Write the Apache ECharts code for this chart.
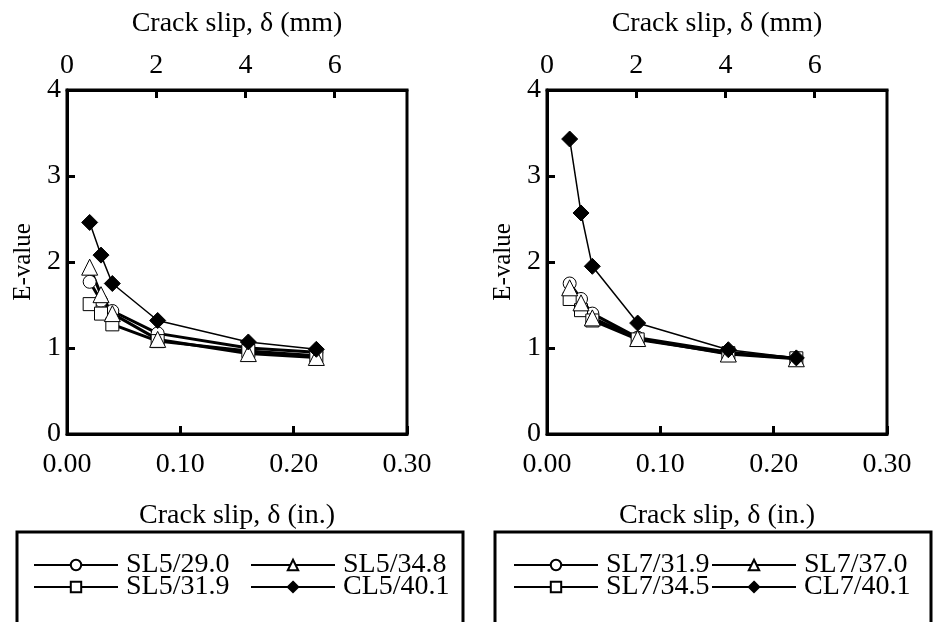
<!DOCTYPE html>
<html>
<head>
<meta charset="utf-8">
<script src="https://cdn.jsdelivr.net/npm/echarts@6/dist/echarts.min.js"></script>
<style>
  html, body { margin: 0; padding: 0; background: #fff; }
  #chart { width: 934px; height: 622px; }
</style>
</head>
<body>
<div id="chart"></div>
<script>
// Crack slip (in.) at each measurement
const slipIn = [0.02, 0.03, 0.04, 0.08, 0.16, 0.22];

// E-values, 5 mm specimens
const sl5_290 = [1.77, 1.55, 1.43, 1.17, 1.00, 0.95];
const sl5_348 = [1.94, 1.62, 1.40, 1.10, 0.935, 0.89];
const sl5_319 = [1.51, 1.40, 1.275, 1.08, 0.965, 0.91];
const cl5_401 = [2.46, 2.08, 1.75, 1.32, 1.07, 0.985];

// E-values, 7 mm specimens
const sl7_319 = [1.75, 1.57, 1.40, 1.12, 0.95, 0.88];
const sl7_370 = [1.70, 1.525, 1.35, 1.11, 0.93, 0.875];
const sl7_345 = [1.57, 1.44, 1.32, 1.10, 0.94, 0.88];
const cl7_401 = [3.43, 2.57, 1.95, 1.29, 0.98, 0.885];

const yTicks = [0, 1, 2, 3, 4];
const inTicks = [0, 0.1, 0.2, 0.3];
const mmTicks = [0, 2, 4, 6];
const MM_PER_IN = 25.4;

const FONT = 'Liberation Serif';
const FS = 28;

const pairs = (ys) => ys.map((y, i) => [slipIn[i], y]);

const grids = [
  { left: 67, top: 90, width: 340, height: 344 },
  { left: 547, top: 90, width: 340, height: 344 }
];

const axisTextStyle = { color: '#000', fontFamily: FONT, fontSize: FS };
const tickStyle = { show: true, inside: true, length: 8, lineStyle: { color: '#000', width: 3 } };

function bottomAxis(gi) {
  return {
    type: 'value', gridIndex: gi, position: 'bottom',
    min: inTicks[0], max: inTicks[inTicks.length - 1], interval: 0.1,
    axisLine: { show: true, onZero: false, lineStyle: { color: '#000', width: 3 } },
    axisTick: tickStyle,
    splitLine: { show: false },
    axisLabel: Object.assign({ margin: 17, formatter: v => v.toFixed(2) }, axisTextStyle),
    name: 'Crack slip, δ (in.)', nameLocation: 'middle', nameGap: 68,
    nameTextStyle: axisTextStyle
  };
}

function topAxis(gi) {
  return {
    type: 'value', gridIndex: gi, position: 'top',
    min: 0, max: inTicks[inTicks.length - 1] * MM_PER_IN, interval: 2,
    axisLine: { show: true, onZero: false, lineStyle: { color: '#000', width: 3 } },
    axisTick: tickStyle,
    splitLine: { show: false },
    axisLabel: Object.assign({
      margin: 10, showMaxLabel: false,
      formatter: v => (mmTicks.indexOf(Math.round(v * 1000) / 1000) >= 0 ? String(v) : '')
    }, axisTextStyle),
    name: 'Crack slip, δ (mm)', nameLocation: 'middle', nameGap: 52,
    nameTextStyle: axisTextStyle
  };
}

function leftAxis(gi) {
  return {
    type: 'value', gridIndex: gi,
    min: yTicks[0], max: yTicks[yTicks.length - 1], interval: 1,
    axisLine: { show: true, onZero: false, lineStyle: { color: '#000', width: 3 } },
    axisTick: tickStyle,
    splitLine: { show: false },
    axisLabel: Object.assign({ margin: 6 }, axisTextStyle),
    name: 'E-value', nameLocation: 'middle', nameGap: 31, nameRotate: 90,
    nameTextStyle: Object.assign({}, axisTextStyle, { fontSize: 25 })
  };
}

function slSeries(name, ys, symbol, gi, size) {
  return {
    type: 'line', name: name, data: pairs(ys),
    xAxisIndex: gi * 2, yAxisIndex: gi,
    symbol: symbol, symbolSize: size,
    lineStyle: { color: '#000', width: 3 },
    itemStyle: { color: '#fff', borderColor: '#000', borderWidth: 1 },
    emphasis: { disabled: true }, animation: false
  };
}

function clSeries(name, ys, gi) {
  return {
    type: 'line', name: name, data: pairs(ys),
    xAxisIndex: gi * 2, yAxisIndex: gi,
    symbol: 'diamond', symbolSize: 16,
    lineStyle: { color: '#000', width: 1.5 },
    itemStyle: { color: '#000', borderColor: '#000', borderWidth: 1 },
    emphasis: { disabled: true }, animation: false, z: 3
  };
}

function legendItem(name, left, rowCenter) {
  return {
    data: [name], left: left, top: rowCenter - 14, padding: 0,
    itemWidth: 84, itemHeight: 13, selectedMode: false,
    textStyle: { color: '#000', fontFamily: FONT, fontSize: FS, padding: [0, 0, 0, 3] }
  };
}

const ROW1 = 565, ROW2 = 587;

const option = {
  backgroundColor: '#fff',
  animation: false,
  grid: grids.map(g => Object.assign({ show: true, borderColor: '#000', borderWidth: 3, backgroundColor: 'transparent' }, g)),
  xAxis: [bottomAxis(0), topAxis(0), bottomAxis(1), topAxis(1)],
  yAxis: [leftAxis(0), leftAxis(1)],
  series: [
    slSeries('SL5/29.0', sl5_290, 'circle', 0, 13),
    slSeries('SL5/31.9', sl5_319, 'rect', 0, 13),
    slSeries('SL5/34.8', sl5_348, 'triangle', 0, 16),
    clSeries('CL5/40.1', cl5_401, 0),
    slSeries('SL7/31.9', sl7_319, 'circle', 1, 13),
    slSeries('SL7/34.5', sl7_345, 'rect', 1, 13),
    slSeries('SL7/37.0', sl7_370, 'triangle', 1, 16),
    clSeries('CL7/40.1', cl7_401, 1)
  ],
  legend: [
    legendItem('SL5/29.0', 33, ROW1),
    legendItem('SL5/34.8', 250, ROW1),
    legendItem('SL5/31.9', 33, ROW2),
    legendItem('CL5/40.1', 250, ROW2),
    legendItem('SL7/31.9', 513, ROW1),
    legendItem('SL7/37.0', 711, ROW1),
    legendItem('SL7/34.5', 513, ROW2),
    legendItem('CL7/40.1', 711, ROW2)
  ],
  graphic: [
    { type: 'rect', shape: { x: 17, y: 532, width: 446, height: 120 },
      style: { fill: 'none', stroke: '#000', lineWidth: 3 }, silent: true },
    { type: 'rect', shape: { x: 495, y: 532, width: 436, height: 120 },
      style: { fill: 'none', stroke: '#000', lineWidth: 3 }, silent: true }
  ]
};

const chart = echarts.init(document.getElementById('chart'), null, { renderer: 'canvas' });
chart.setOption(option);
</script>
</body>
</html>
